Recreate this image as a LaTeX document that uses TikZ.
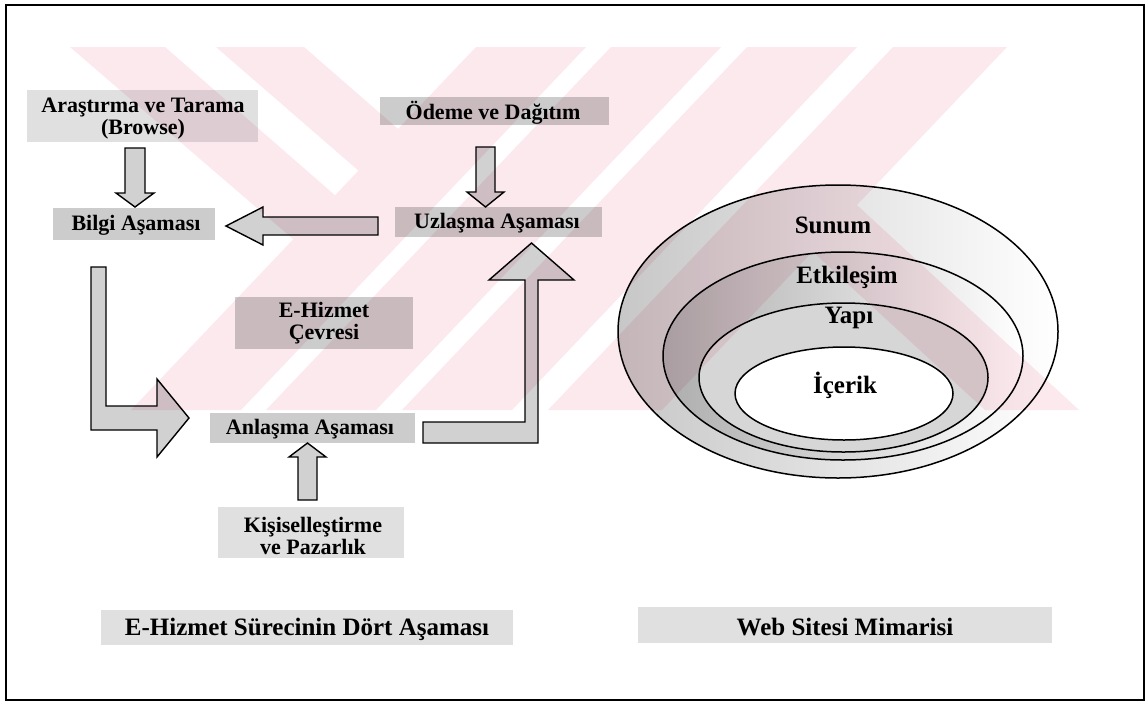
\documentclass[tikz,border=0pt]{standalone}
\usepackage{fontspec}
\setmainfont{Liberation Serif}
\usetikzlibrary{fadings}
\definecolor{wmpink}{RGB}{252,233,238}
\begin{document}
\begin{tikzpicture}[x=1pt,y=-1pt,
  lbl/.style={font=\bfseries\fontsize{22}{22}\selectfont, align=center, inner sep=0pt, text=black},
  biglbl/.style={font=\bfseries\fontsize{25}{25}\selectfont, align=center, inner sep=0pt, text=black},
  box/.style={fill=black, fill opacity=0.2, text opacity=1, inner sep=0pt, anchor=center},
  lightbox/.style={fill=black, fill opacity=0.12, text opacity=1, inner sep=0pt, anchor=center},
  blockarrow/.style={draw=black, line width=1.4pt, fill=black, fill opacity=0.18, line join=miter},
  ring/.style={draw=black, line width=1.5pt}
]
\useasboundingbox (0,0) rectangle (1147,702);
\fill[white] (0,0) rectangle (1147,702);

% background emblem in pale pink
\begin{scope}
\fill[wmpink] (70,47) -- (165,47) -- (345,204) -- (300,245) -- cycle;
\fill[wmpink] (216,47) -- (304,47) -- (405,135) -- (367,178) -- cycle;
\fill[wmpink] (476,47) -- (586,47) -- (241,410) -- (131,410) -- cycle;
\fill[wmpink] (611,47) -- (721,47) -- (376,410) -- (266,410) -- cycle;
\fill[wmpink] (747,47) -- (857,47) -- (512,410) -- (402,410) -- cycle;
\fill[wmpink] (893,47) -- (1007,47) -- (662,410) -- (548,410) -- cycle;
\fill[wmpink] (846,195) -- (1079,410) -- (985,410) -- (800,240) -- cycle;
\end{scope}

% outer frame
\draw[line width=1.6pt] (6,5) rectangle (1144,700);

% stage boxes
\node[lightbox, minimum width=231, minimum height=52] (arastirma) at (142.5,116) {};
\node[lbl] (arastirmaT) at (143,118.5) {Araştırma ve Tarama\\(Browse)};
\node[box, minimum width=162, minimum height=32] (bilgi) at (134,224) {};
\node[lbl] (bilgiT) at (136,225) {Bilgi Aşaması};
\node[box, minimum width=229, minimum height=28] (odeme) at (494.5,111) {};
\node[lbl] (odemeT) at (493,113) {Ödeme ve Dağıtım};
\node[box, minimum width=207, minimum height=30] (uzlasma) at (498.5,222) {};
\node[lbl] (uzlasmaT) at (497,223.5) {Uzlaşma Aşaması};
\node[box, minimum width=178, minimum height=52] (ehizmet) at (324,323) {};
\node[lbl] (ehizmetT) at (324,323.5) {E-Hizmet\\Çevresi};
\node[box, minimum width=205, minimum height=30] (anlasma) at (312.5,428) {};
\node[lbl] (anlasmaT) at (310,429.5) {Anlaşma Aşaması};
\node[lightbox, minimum width=186, minimum height=51] (kisisel) at (311,532.5) {};
\node[lbl] (kisiselT) at (313,536) {Kişiselleştirme\\ve Pazarlık};

% captions
\node[lightbox, minimum width=412, minimum height=35] (surec) at (307,627.5) {};
\node[biglbl] (surecT) at (307,629) {E-Hizmet Sürecinin Dört Aşaması};
\node[lightbox, minimum width=414, minimum height=36] (web) at (845,625) {};
\node[biglbl] (webT) at (845,627) {Web Sitesi Mimarisi};

% block arrows
\draw[blockarrow] (125,148) -- (145,148) -- (145,193) -- (154,193) -- (135,207) -- (116,193) -- (125,193) -- cycle;
\draw[blockarrow] (476,147) -- (495,147) -- (495,192) -- (504,192) -- (485.5,207) -- (467,192) -- (476,192) -- cycle;
\draw[blockarrow] (378,217) -- (263,217) -- (263,207) -- (226,226) -- (263,245) -- (263,235) -- (378,235) -- cycle;
\draw[blockarrow] (298,500) -- (317,500) -- (317,457) -- (326,457) -- (307.5,443) -- (289,457) -- (298,457) -- cycle;
\draw[blockarrow] (91,267) -- (106,267) -- (106,406) -- (157,406) -- (157,379) -- (189,418) -- (157,457) -- (157,430) -- (91,430) -- cycle;
\draw[blockarrow] (423,422) -- (525,422) -- (525,280) -- (489,280) -- (531.5,243) -- (574,280) -- (538,280) -- (538,443) -- (423,443) -- cycle;

% web site layers: shaded rings, darker towards the left
\fill[black, fill opacity=0.22, path fading=east, even odd rule] (838,331.5) ellipse [x radius=220, y radius=146.5] (843,356) ellipse [x radius=180, y radius=104];
\fill[black, fill opacity=0.32, path fading=east, even odd rule] (843,356) ellipse [x radius=180, y radius=104] (843.5,377.5) ellipse [x radius=144.5, y radius=74.5];
\fill[black, fill opacity=0.16, even odd rule] (843.5,377.5) ellipse [x radius=144.5, y radius=74.5] (844,393.5) ellipse [x radius=109, y radius=46.5];
\draw[ring] (838,331.5) ellipse [x radius=220, y radius=146.5];
\draw[ring] (843,356) ellipse [x radius=180, y radius=104];
\draw[ring] (843.5,377.5) ellipse [x radius=144.5, y radius=74.5];
\draw[ring] (844,393.5) ellipse [x radius=109, y radius=46.5];
\node[biglbl] (sunum) at (833,225) {Sunum};
\node[biglbl] (etkilesim) at (847,277) {Etkileşim};
\node[biglbl] (yapi) at (849,318) {Yapı};
\node[biglbl] (icerik) at (845,385) {İçerik};
\end{tikzpicture}
\end{document}
